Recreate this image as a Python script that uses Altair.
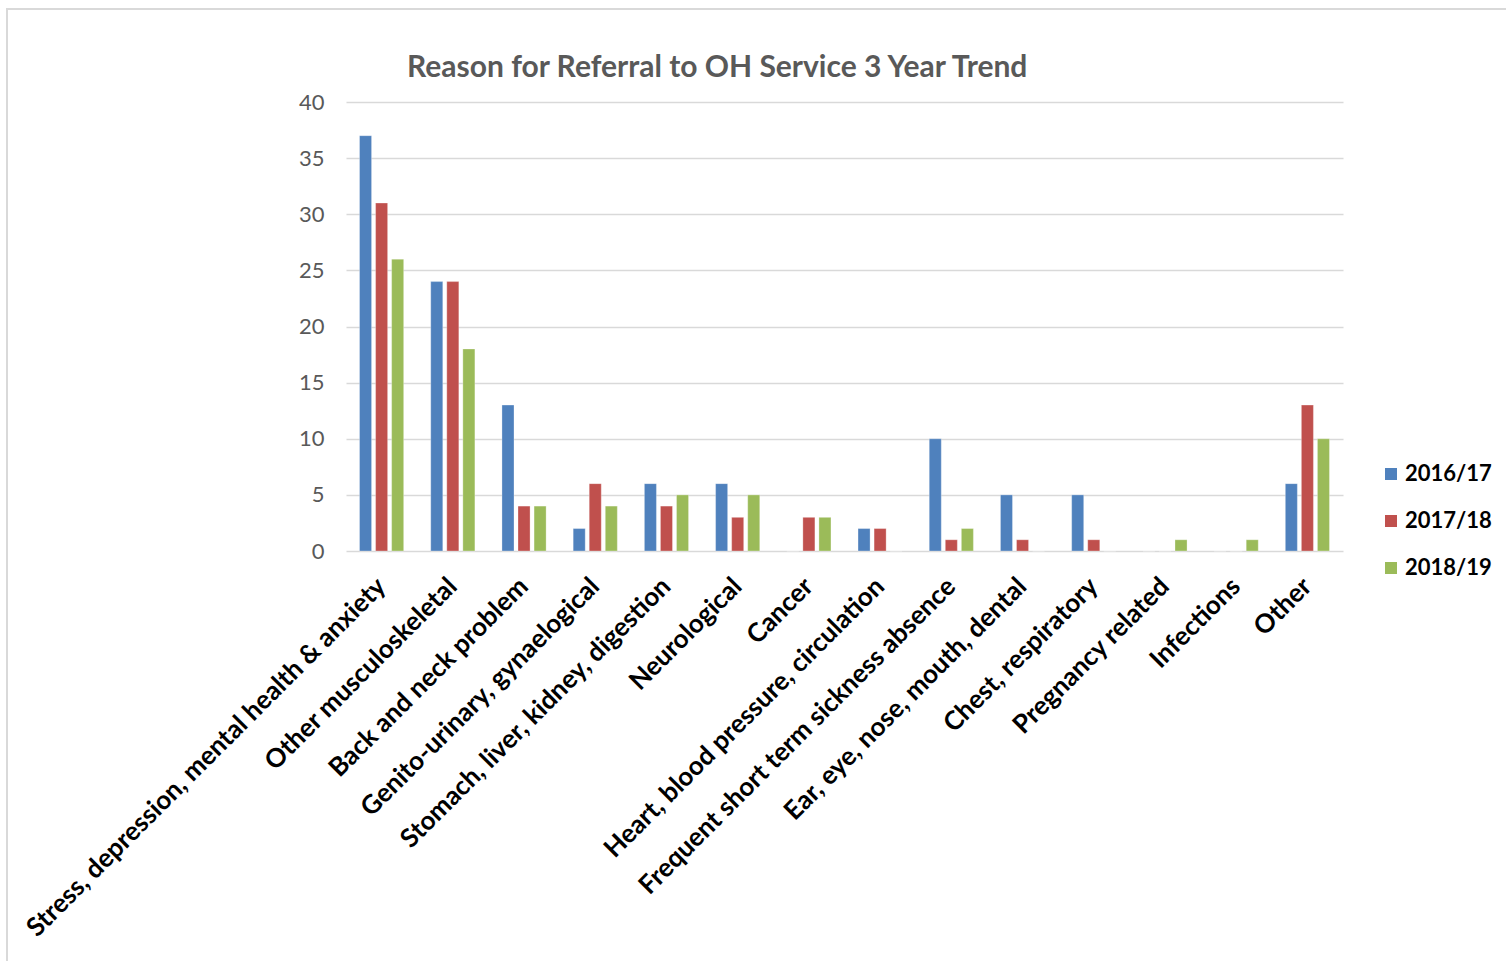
import altair as alt
import pandas as pd

categories = [
    "Stress, depression, mental health & anxiety",
    "Other musculoskeletal",
    "Back and neck problem",
    "Genito-urinary, gynaelogical",
    "Stomach, liver, kidney, digestion",
    "Neurological",
    "Cancer",
    "Heart, blood pressure, circulation",
    "Frequent short term sickness absence",
    "Ear, eye, nose, mouth, dental",
    "Chest, respiratory",
    "Pregnancy related",
    "Infections",
    "Other",
]
series_names = ["2016/17", "2017/18", "2018/19"]
values_2016_17 = [37, 24, 13, 2, 6, 6, 0, 2, 10, 5, 5, 0, 0, 6]
values_2017_18 = [31, 24, 4, 6, 4, 3, 3, 2, 1, 1, 1, 0, 0, 13]
values_2018_19 = [26, 18, 4, 4, 5, 5, 3, 0, 2, 0, 0, 1, 1, 10]
colors = ["#4F81BD", "#C0504D", "#9BBB59"]

rows = []
for s, vals in zip(series_names, [values_2016_17, values_2017_18, values_2018_19]):
    for c, v in zip(categories, vals):
        rows.append({"Category": c, "Year": s, "Value": v})
df = pd.DataFrame(rows)

FONT = "Lato"

bars = alt.Chart(df).mark_bar(stroke="white", strokeWidth=0.6, strokeOpacity=0.5).encode(
    x=alt.X(
        "Category:N",
        sort=categories,
        scale=alt.Scale(paddingInner=0.38, paddingOuter=0.19),
        axis=alt.Axis(
            title=None,
            labelAngle=315,
            labelAlign="right",
            labelBaseline="middle",
            labelPadding=31,
            labelFont=FONT,
            labelFontWeight="bold",
            labelFontSize=26,
            labelColor="#000000",
            labelLimit=1000,
            domain=False,
            ticks=False,
            grid=False,
        ),
    ),
    xOffset=alt.XOffset(
        "Year:N",
        sort=series_names,
        scale=alt.Scale(paddingInner=0.25, paddingOuter=0),
    ),
    y=alt.Y(
        "Value:Q",
        scale=alt.Scale(domain=[0, 40], nice=False),
        axis=alt.Axis(
            title=None,
            values=[0, 5, 10, 15, 20, 25, 30, 35, 40],
            labelFont=FONT,
            labelFontSize=22,
            labelColor="#595959",
            labelPadding=22,
            domain=False,
            ticks=False,
            grid=True,
            gridColor="#d9d9d9",
            gridWidth=1.5,
        ),
    ),
    color=alt.Color(
        "Year:N",
        sort=series_names,
        scale=alt.Scale(domain=series_names, range=colors),
        legend=alt.Legend(
            title=None,
            orient="none",
            legendX=1034,
            legendY=361,
            symbolType="square",
            symbolSize=144,
            symbolStrokeWidth=0,
            labelFont=FONT,
            labelFontWeight="bold",
            labelFontSize=22,
            labelColor="#000000",
            labelOffset=3,
            rowPadding=25,
        ),
    ),
)

frame = alt.Chart(alt.Data(values=[{"a": 1}])).mark_rect(
    fill=None, stroke="#d9d9d9", strokeWidth=2
).encode(
    x=alt.value(-339), x2=alt.value(1200), y=alt.value(-93), y2=alt.value(900)
)

chart = alt.layer(frame, bars).properties(
    width=997,
    height=449,
    background="white",
    title=alt.TitleParams(
        "Reason for Referral to OH Service 3 Year Trend",
        anchor="start",
        frame="group",
        dx=61,
        dy=99,
        offset=24,
        font=FONT,
        fontSize=30,
        fontWeight="bold",
        color="#595959",
    ),
    autosize=alt.AutoSizeParams(type="none"),
    padding={"left": 346, "top": 102, "right": 163, "bottom": 410},
).configure_view(strokeWidth=0, stroke=None)

chart.save("out.html", embed_options={"renderer": "svg", "actions": False})
